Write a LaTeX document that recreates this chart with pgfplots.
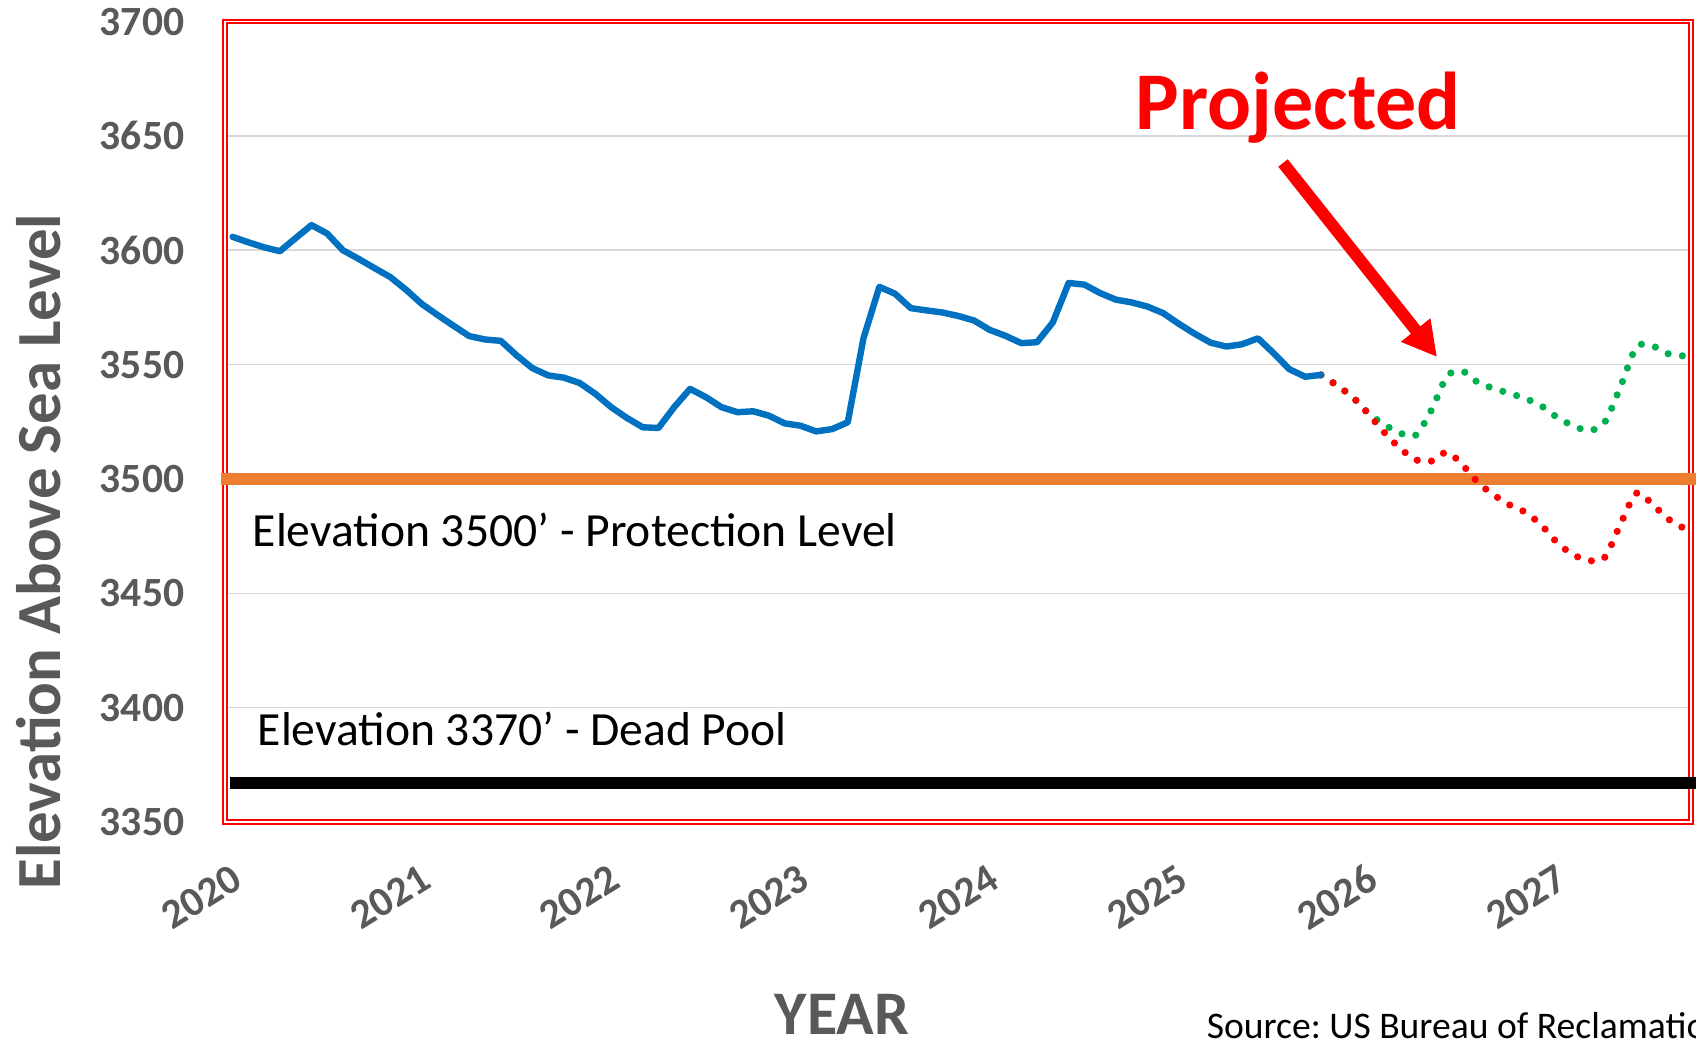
\documentclass[border=0pt]{standalone}
\usepackage{pgfplots}
\pgfplotsset{compat=1.18}
\usepackage{pgfplotstable}
\usepackage{fontspec}
\setmainfont{Carlito}
\frenchspacing
\usetikzlibrary{arrows.meta}
\definecolor{tickgray}{HTML}{595959}
\definecolor{xlblue}{HTML}{0070C0}
\definecolor{xlorange}{HTML}{ED7D31}
\definecolor{xlgreen}{HTML}{00B050}
\definecolor{xlred}{HTML}{FF0000}
\definecolor{gridgray}{HTML}{D9D9D9}
\newcommand{\ticklabelfont}{\bfseries\fontsize{10.4bp}{12bp}\selectfont}

\pgfplotstableread{
x y
2020.040 3605.9
2020.123 3603.5
2020.207 3601.3
2020.290 3599.6
2020.373 3605.3
2020.457 3611.0
2020.540 3607.3
2020.623 3600.0
2020.707 3596.2
2020.790 3592.2
2020.873 3588.3
2020.957 3582.7
2021.040 3576.5
2021.123 3571.7
2021.207 3567.0
2021.290 3562.5
2021.373 3561.0
2021.457 3560.4
2021.540 3554.1
2021.623 3548.5
2021.707 3545.3
2021.790 3544.3
2021.873 3542.0
2021.957 3537.2
2022.040 3531.4
2022.123 3526.7
2022.207 3522.6
2022.290 3522.3
2022.373 3531.4
2022.457 3539.4
2022.540 3535.8
2022.623 3531.4
2022.707 3529.2
2022.790 3529.6
2022.873 3527.7
2022.957 3524.3
2023.040 3523.3
2023.123 3520.8
2023.207 3521.8
2023.290 3524.8
2023.373 3561.5
2023.457 3584.0
2023.540 3581.0
2023.623 3574.7
2023.707 3573.7
2023.790 3572.8
2023.873 3571.3
2023.957 3569.3
2024.040 3565.2
2024.123 3562.6
2024.207 3559.4
2024.290 3559.8
2024.373 3568.4
2024.457 3585.7
2024.540 3585.0
2024.623 3581.3
2024.707 3578.4
2024.790 3577.2
2024.873 3575.4
2024.957 3572.5
2025.040 3567.8
2025.123 3563.5
2025.207 3559.6
2025.290 3557.9
2025.373 3558.9
2025.457 3561.5
2025.540 3555.0
2025.623 3548.0
2025.707 3544.7
2025.790 3545.5
}\actual

\pgfplotstableread{
x y
2025.790 3545.5
2025.873 3541.0
2025.957 3535.8
2026.040 3528.5
2026.123 3520.5
2026.207 3513.5
2026.290 3508.4
2026.373 3507.8
2026.457 3511.7
2026.540 3505.9
2026.623 3498.2
2026.707 3492.8
2026.790 3488.5
2026.873 3485.3
2026.957 3479.6
2027.040 3472.0
2027.123 3466.9
2027.207 3464.3
2027.290 3465.8
2027.373 3480.4
2027.457 3493.8
2027.540 3489.0
2027.623 3482.6
2027.707 3478.5
}\low

\pgfplotstableread{
x y
2025.790 3545.5
2025.873 3541.0
2025.957 3535.8
2026.040 3528.8
2026.123 3523.9
2026.207 3520.1
2026.290 3519.1
2026.373 3530.0
2026.457 3545.0
2026.540 3547.0
2026.623 3542.0
2026.707 3539.5
2026.790 3537.3
2026.873 3535.1
2026.957 3531.8
2027.040 3526.8
2027.123 3523.3
2027.207 3521.1
2027.290 3524.9
2027.373 3540.5
2027.457 3557.7
2027.540 3558.2
2027.623 3554.8
2027.707 3553.8
}\high

\begin{document}
\begin{tikzpicture}
\useasboundingbox (0,0) rectangle (424bp,260.5bp);
\clip (0,0) rectangle (424bp,260.5bp);
\begin{axis}[
  at={(56.25bp,55bp)}, anchor=south west,
  scale only axis, width=366.5bp, height=200.1bp,
  xmin=2020, xmax=2027.745, ymin=3350, ymax=3700,
  clip=false,
  axis line style={draw=xlred, line width=0.45bp, double=white, double distance=0.4bp},
  ytick={3350,3400,3450,3500,3550,3600,3650,3700},
  yticklabels={3350,3400,3450,3500,3550,3600,3650,3700},
  xtick={2020,2021,2022,2023,2024,2025,2026,2027},
  xticklabels={2020,2021,2022,2023,2024,2025,2026,2027},
  major tick length=0pt,
  ymajorgrids, major grid style={draw=gridgray, line width=0.4bp},
  yticklabel style={font=\ticklabelfont, text=tickgray, anchor=east, inner sep=0pt, xshift=-10bp},
  xticklabel style={font=\ticklabelfont, text=tickgray, inner sep=0pt, xshift=3.1bp, yshift=-13.1bp, rotate=32, anchor=east},
]
\addplot[draw=xlorange, line width=3bp] coordinates {(2019.977,3500) (2028.2,3500)};
\addplot[draw=black, line width=3bp] coordinates {(2020.029,3367) (2028.2,3367)};
\addplot[draw=xlgreen, line width=1.8bp, line cap=round, dash pattern=on 0bp off 3.6bp, smooth] table[x=x,y=y] {\high};
\addplot[draw=xlred, line width=1.8bp, line cap=round, dash pattern=on 0bp off 3.6bp, smooth] table[x=x,y=y] {\low};
\addplot[draw=xlblue, line width=1.6bp, line join=round, line cap=round] table[x=x,y=y] {\actual};
\end{axis}
\node[anchor=base west, inner sep=0pt, font=\fontsize{11.9bp}{14bp}\selectfont] at (63bp,123.75bp) {Elevation 3500’ - Protection Level};
\node[anchor=base west, inner sep=0pt, font=\fontsize{11.9bp}{14bp}\selectfont] at (64.25bp,74bp) {Elevation 3370’ - Dead Pool};
\node[rotate=90, inner sep=0pt, text=tickgray, font=\bfseries\fontsize{15.7bp}{18bp}\selectfont] at (9.6bp,122.6bp) {Elevation Above Sea Level};
\node[anchor=base, inner sep=0pt, text=tickgray, font=\bfseries\fontsize{15.5bp}{18bp}\selectfont] at (210.5bp,1.9bp) {YEAR};
\node[anchor=base west, inner sep=0pt, font=\fontsize{9.4bp}{11bp}\selectfont] at (301.5bp,0.9bp) {Source: US Bureau of Reclamation};
\node[anchor=base west, inner sep=0pt, text=xlred, font=\bfseries\fontsize{20.5bp}{24bp}\selectfont] at (283.75bp,228bp) {Projected};
\draw[xlred, line width=3bp, -{Triangle[length=8.6bp,width=8.8bp]}] (320.75bp,219.75bp) -- (359.25bp,171.25bp);
\end{tikzpicture}
\end{document}
